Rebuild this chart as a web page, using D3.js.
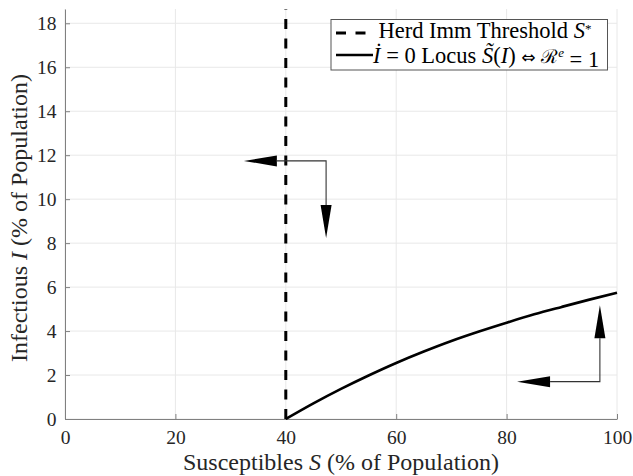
<!DOCTYPE html>
<html>
<head>
<meta charset="utf-8">
<script src="https://cdn.jsdelivr.net/npm/d3@7"></script>
<style>
  body { margin: 0; background: #fff; }
  svg, svg text { font-family: "Liberation Serif", "DejaVu Serif", serif; }
  .grid line { stroke: #e8e8e8; }
</style>
</head>
<body>
<div id="chart"></div>
<script>
// data
var xTicks = [0, 20, 40, 60, 80, 100];
var yTicks = [0, 2, 4, 6, 8, 10, 12, 14, 16, 18];
var threshold = 40;                 // herd immunity threshold S*
var locusS = [40, 45, 50, 55, 60, 65, 70, 75, 80, 85, 90, 95, 100];
var locusI = [0, 0.71, 1.37, 1.98, 2.55, 3.07, 3.55, 3.98, 4.38, 4.76, 5.10, 5.43, 5.74];
// phase arrows: corner point, horizontal tip S, vertical tip I
var arrowCorner = [[47.3, 11.74], [96.9, 1.70]];
var arrowTipS = [32.4, 81.9];
var arrowTipI = [8.23, 5.17];

var margins = {width: 552, height: 410, margin_left: 65, margin_right: 16, margin_top: 9, margin_bottom: 57};

var svg = d3.select("#chart")
    .append("svg")
    .attr("width", 633)
    .attr("height", 476)
    .append("g")
    .attr("transform", "translate(" + margins.margin_left + "," + margins.margin_top + ")");

var x = d3.scaleLinear().domain([0, 100]).range([0, margins.width]);
var y = d3.scaleLinear().domain([0, 18.65]).range([margins.height, 0]);

// grid
svg.append("g").attr("class", "grid")
    .selectAll("line").data(xTicks).enter().append("line")
    .attr("x1", d => x(d)).attr("x2", d => x(d))
    .attr("y1", 0).attr("y2", margins.height);
svg.append("g").attr("class", "grid")
    .selectAll("line").data(yTicks).enter().append("line")
    .attr("y1", d => y(d)).attr("y2", d => y(d))
    .attr("x1", 0).attr("x2", margins.width);

// axes (ticks point inward)
var x_axis = d3.axisBottom(x).tickValues(xTicks).tickSize(-5).tickPadding(11.5).tickSizeOuter(0);
var gx = svg.append("g")
    .attr("transform", "translate(0," + margins.height + ")")
    .call(x_axis);
var y_axis = d3.axisLeft(y).tickValues(yTicks).tickSize(-5).tickPadding(8.5).tickSizeOuter(0);
var gy = svg.append("g").call(y_axis);
[gx, gy].forEach(function(g) {
    g.attr("font-family", null).attr("font-size", null);
    g.select(".domain").attr("stroke", "#808080");
    g.selectAll(".tick line").attr("stroke", "#808080");
    g.selectAll(".tick text")
        .attr("fill", "#262626")
        .style("font-family", "'Liberation Serif', serif")
        .style("font-size", "19.5px");
});

// herd immunity threshold
svg.append("line")
    .attr("x1", x(threshold)).attr("x2", x(threshold))
    .attr("y1", y(0)).attr("y2", y(18.65))
    .attr("stroke", "#000").attr("stroke-width", 3)
    .attr("stroke-dasharray", "10,9.5");

// Idot = 0 locus
var locus = locusS.map((s, i) => [s, locusI[i]]);
svg.append("path")
    .datum(locus)
    .attr("fill", "none")
    .attr("stroke", "#000")
    .attr("stroke-width", 2.6)
    .attr("d", d3.line().x(d => x(d[0])).y(d => y(d[1])).curve(d3.curveMonotoneX));

// arrows
var headLen = 33, headHalf = 5.5;
arrowCorner.forEach(function(c, i) {
    var cx = x(c[0]), cy = y(c[1]);
    var hx = x(arrowTipS[i]), vy = y(arrowTipI[i]);
    var vdir = vy > cy ? 1 : -1;
    svg.append("path")
        .attr("d", "M" + (hx + headLen) + "," + cy + "L" + cx + "," + cy + "L" + cx + "," + (vy - vdir * headLen))
        .attr("fill", "none").attr("stroke", "#333").attr("stroke-width", 1.1);
    svg.append("path")
        .attr("d", "M" + hx + "," + cy + "L" + (hx + headLen) + "," + (cy - headHalf) + "L" + (hx + headLen) + "," + (cy + headHalf) + "Z")
        .attr("fill", "#000");
    svg.append("path")
        .attr("d", "M" + cx + "," + vy + "L" + (cx - headHalf) + "," + (vy - vdir * headLen) + "L" + (cx + headHalf) + "," + (vy - vdir * headLen) + "Z")
        .attr("fill", "#000");
});

// axis labels
var xl = svg.append("text")
    .attr("x", margins.width / 2)
    .attr("y", margins.height + 50.5)
    .attr("text-anchor", "middle")
    .attr("fill", "#262626")
    .style("font-size", "24px");
xl.append("tspan").text("Susceptibles ");
xl.append("tspan").attr("font-style", "italic").text("S");
xl.append("tspan").text(" (% of Population)");

var yl = svg.append("text")
    .attr("transform", "translate(-38," + (margins.height / 2 + 4) + ") rotate(-90)")
    .attr("text-anchor", "middle")
    .attr("fill", "#262626")
    .style("font-size", "24px");
yl.append("tspan").text("Infectious ");
yl.append("tspan").attr("font-style", "italic").text("I");
yl.append("tspan").text(" (% of Population)");

// legend
var lg = svg.append("g").attr("transform", "translate(" + (331 - margins.margin_left) + "," + (19.5 - margins.margin_top) + ")");
lg.append("rect")
    .attr("width", 276.5).attr("height", 50.5)
    .attr("fill", "#fff").attr("stroke", "#555").attr("stroke-width", 1);
lg.append("line")
    .attr("x1", 5).attr("x2", 37).attr("y1", 13.5).attr("y2", 13.5)
    .attr("stroke", "#000").attr("stroke-width", 3).attr("stroke-dasharray", "10,9.5");
lg.append("line")
    .attr("x1", 5).attr("x2", 42).attr("y1", 35.5).attr("y2", 35.5)
    .attr("stroke", "#000").attr("stroke-width", 2.6);
var t1 = lg.append("text").attr("x", 47.5).attr("y", 18.5).style("font-size", "22.5px").attr("fill", "#000");
t1.append("tspan").text("Herd Imm Threshold ");
t1.append("tspan").attr("font-style", "italic").text("S");
t1.append("tspan").attr("dy", "-0.4em").style("font-size", "13px").text("*");
var t2 = lg.append("text").attr("x", 42).attr("y", 43).style("font-size", "22.5px").attr("fill", "#000");
t2.append("tspan").attr("font-style", "italic").text("I\u0307");
t2.append("tspan").text(" = 0 Locus ");
t2.append("tspan").attr("font-style", "italic").text("S\u0303");
t2.append("tspan").text("(");
t2.append("tspan").attr("font-style", "italic").text("I");
t2.append("tspan").text(") ");
t2.append("tspan").attr("font-family", "DejaVu Sans").style("font-size", "17px").text("\u21D4");
t2.append("tspan").text(" ");
t2.append("tspan").attr("font-family", "DejaVu Serif").style("font-size", "19px").text("\u211B");
t2.append("tspan").attr("dy", "-0.45em").attr("font-style", "italic").style("font-size", "13px").text("e");
t2.append("tspan").attr("dy", "0.45em").text(" = 1");
</script>
</body>
</html>
